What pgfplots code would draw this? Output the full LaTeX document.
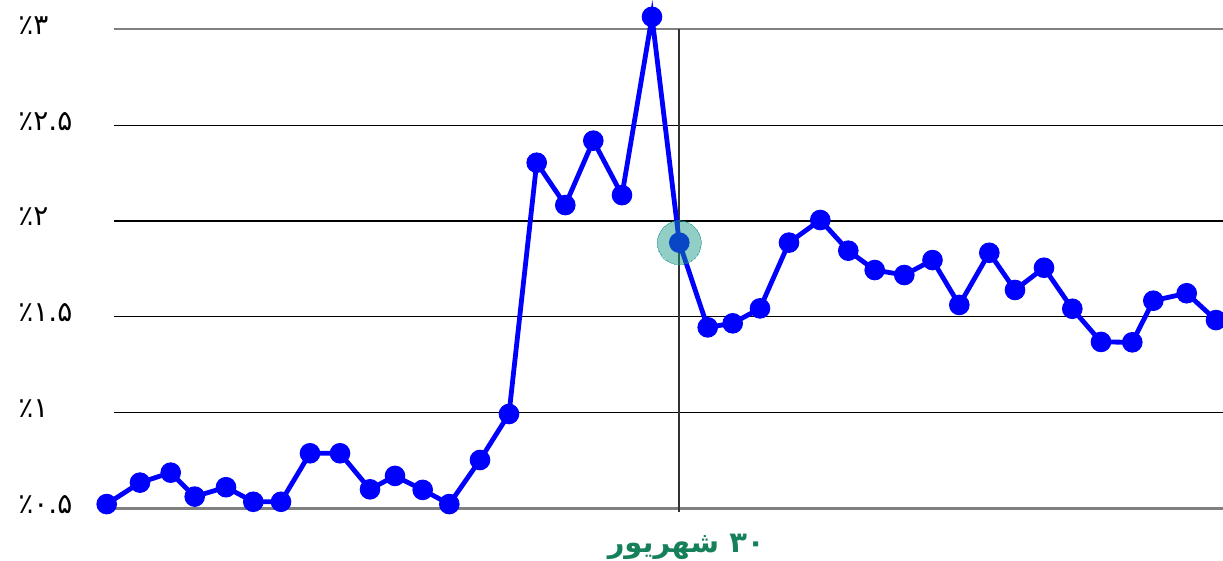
\documentclass[border=0pt]{standalone}
\usepackage{pgfplots}
\pgfplotsset{compat=1.18}
\usepackage{fontspec}
\setmainfont{DejaVu Sans}
\newfontfamily\arabicfont[Script=Arabic]{DejaVu Sans}
\TeXXeTstate=1
\definecolor{lineblue}{RGB}{0,0,255}
\definecolor{hlteal}{RGB}{21,150,132}
\definecolor{labelgreen}{RGB}{22,128,90}
\definecolor{vline}{RGB}{50,50,50}
\definecolor{edgegray}{RGB}{128,128,128}

% x = horizontal position of each reading (days are not evenly spaced)
\pgfplotstableread{
x      y
106.7  0.523
140.0  0.635
170.7  0.687
194.7  0.562
226.0  0.611
253.3  0.535
281.0  0.535
310.0  0.788
340.0  0.788
370.0  0.600
395.0  0.670
422.7  0.597
449.3  0.523
480.0  0.753
509.0  0.993
536.7  2.304
565.3  2.083
593.3  2.419
622.0  2.135
652.0  3.065
679.3  1.887
707.7  1.445
732.7  1.466
760.0  1.544
789.0  1.887
820.3  2.005
848.3  1.845
874.7  1.744
904.3  1.718
932.5  1.796
959.3  1.562
989.3  1.834
1015.0 1.640
1044.0 1.756
1072.3 1.542
1101.0 1.369
1132.3 1.367
1153.3 1.584
1186.7 1.623
1216.0 1.483
}\ratetable

\begin{document}
\begin{tikzpicture}
    \useasboundingbox (0,0) rectangle (611.5pt,280.5pt);
    \begin{axis}[
            at={(57pt,26.25pt)},
            anchor=south west,
            scale only axis,
            width=554.5pt,
            height=239.6pt,
            xmin=114, xmax=1223,
            ymin=0.5, ymax=3,
            clip=false,
            axis line style={draw=none},
            tick style={draw=none},
            xtick=\empty,
            ytick={0.5,1,1.5,2,2.5,3},
            yticklabels={٪۰.۵,٪۱,٪۱.۵,٪۲,٪۲.۵,٪۳},
            yticklabel style={font=\arabicfont\fontsize{14}{16}\selectfont,
                    anchor=west, xshift=-48pt, yshift=2pt, inner sep=0pt},
            ymajorgrids=true,
            grid style={black, line width=0.55pt},
            major tick length=0pt,
            xlabel={\arabicfont\bfseries\beginR ۳۰ شهریور\endR},
            xlabel style={at={(axis description cs:0.516,0)}, anchor=center,
                    yshift=-19pt, font=\fontsize{14.5}{16}\selectfont,
                    text=labelgreen},
        ]
        % top and bottom rules
        \addplot[edgegray, line width=1.2pt] coordinates {(110,0.5) (1223,0.5)};
        \addplot[edgegray, line width=0.8pt] coordinates {(114,3) (1223,3)};
        % marker for 30 Shahrivar
        \addplot[vline, line width=1pt] coordinates {(679.3,0.482) (679.3,3)};
        % series
        \addplot[lineblue, line width=2.4pt, mark=*, mark size=4.9pt,
            mark options={fill=lineblue, draw=lineblue, line width=0.5pt}] table[x=x, y=y] {\ratetable};
        % highlighted point
        \addplot[hlteal, only marks, mark=*, mark size=11pt,
            mark options={fill=hlteal, draw=hlteal, line width=0pt, opacity=0.47}] coordinates {(679.3,1.887)};
    \end{axis}
\end{tikzpicture}
\end{document}
